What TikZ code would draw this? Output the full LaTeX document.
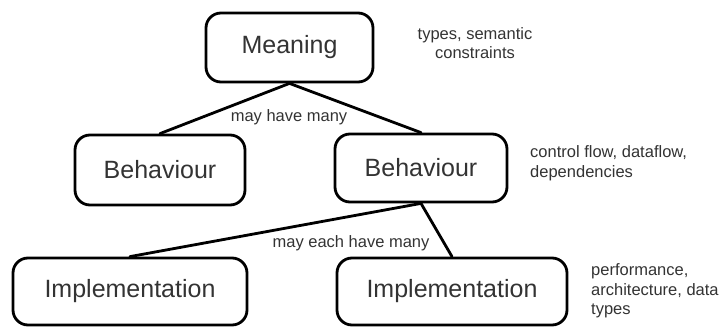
\documentclass[tikz,border=0pt]{standalone}
\usepackage{fontspec}
\setmainfont{Liberation Sans}
\begin{document}
\begin{tikzpicture}[x=1pt, y=-1pt, line cap=round, line join=round, font=\fontsize{25}{30}\selectfont]
	\tikzset{level/.style={draw, line width=2.8pt, rounded corners=15pt, inner sep=0pt, text=black!80},
		note/.style={font=\fontsize{16.5}{19.5}\selectfont, text=black!80, inner sep=0pt}}
	\useasboundingbox (0,0) rectangle (723,327);
	\node[level, minimum width=167pt, minimum height=69pt] (meaning) at (289.5,47.5) {Meaning};
	\node[level, minimum width=170pt, minimum height=70pt] (behl) at (160,170) {Behaviour};
	\node[level, minimum width=172pt, minimum height=68pt] (behr) at (421,168) {Behaviour};
	\node[level, minimum width=234pt, minimum height=67pt] (impl) at (130,291.5) {Implementation};
	\node[level, minimum width=230pt, minimum height=67pt] (impr) at (452,291.5) {Implementation};
	\draw[line width=2.8pt] (meaning.south) -- (behl.north);
	\draw[line width=2.8pt] (meaning.south) -- (behr.north);
	\draw[line width=2.8pt] (behr.south) -- (impl.north);
	\draw[line width=2.8pt] (behr.south) -- (impr.north);
	\node[note] (many) at (289,117) {may have many};
	\node[note] (eachmany) at (351,243) {may each have many};
	\node[note, align=center] (tmean) at (475,43) {types, semantic\\constraints};
	\node[note, align=left, anchor=west] (tbeh) at (530,163) {control flow, dataflow,\\dependencies};
	\node[note, align=left, anchor=west] (timp) at (591,291) {performance,\\architecture, data\\types};
\end{tikzpicture}
\end{document}
